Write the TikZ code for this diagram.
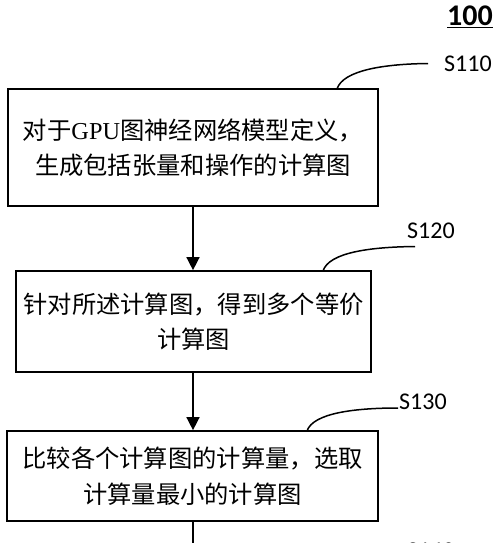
\documentclass[tikz,border=0pt]{standalone}
\usepackage{fontspec}
\setmainfont{Carlito}
\newfontfamily\cjk{Noto Sans CJK SC}
\newfontfamily\latinserif{Liberation Serif}
\usetikzlibrary{arrows.meta}
\begin{document}
\begin{tikzpicture}[x=1pt,y=-1pt,
  stepbox/.style={draw=black,line width=1.7pt,rectangle,inner sep=0pt,align=center,
    font=\cjk\fontsize{24.3}{35.5}\selectfont},
  flow/.style={line width=1.5pt,-{Triangle[length=13pt,width=13pt]}},
  tag/.style={font=\fontsize{24}{26}\selectfont,anchor=west,inner sep=0pt},
  lead/.style={line width=1.5pt}]
\useasboundingbox (0,0) rectangle (500,543);
\clip (0,0) rectangle (500,543);
\node[font=\bfseries\fontsize{30}{32}\selectfont,inner sep=0pt,anchor=east] (fig) at (493,17) {\underline{100}};
\node[stepbox,minimum width=370pt,minimum height=117pt] (b1) at (193,147.5)
  {对于{\latinserif GPU}图神经网络模型定义，\\生成包括张量和操作的计算图};
\node[stepbox,minimum width=355pt,minimum height=101pt] (b2) at (193.5,321.5)
  {针对所述计算图，得到多个等价\\计算图};
\node[stepbox,minimum width=371pt,minimum height=90pt] (b3) at (192.5,476)
  {比较各个计算图的计算量，选取\\计算量最小的计算图};
\node[tag] (s1) at (444,64) {S110};
\node[tag] (s2) at (407,231) {S120};
\node[tag] (s3) at (399,402) {S130};
\node[tag] (s4) at (407,551) {S140};
\coordinate (c1) at (337,89);
\coordinate (c2) at (323,271);
\coordinate (c3) at (307,431);
\coordinate (e1) at (428,63.5);
\coordinate (e2) at (415,246.5);
\coordinate (e3) at (398,408);
\coordinate (endb) at (193,560);
\draw[flow] (b1.south -| 193,0) -- (b2.north -| 193,0);
\draw[flow] (b2.south -| 193,0) -- (b3.north -| 193,0);
\draw[line width=1.5pt] (b3.south -| 193,0) -- (endb);
\draw[lead] (c1) .. controls (343,70) and (385,64) .. (e1);
\draw[lead] (c2) .. controls (329,252) and (372,247) .. (e2);
\draw[lead] (c3) .. controls (313,413) and (355,408) .. (e3);
\end{tikzpicture}
\end{document}
